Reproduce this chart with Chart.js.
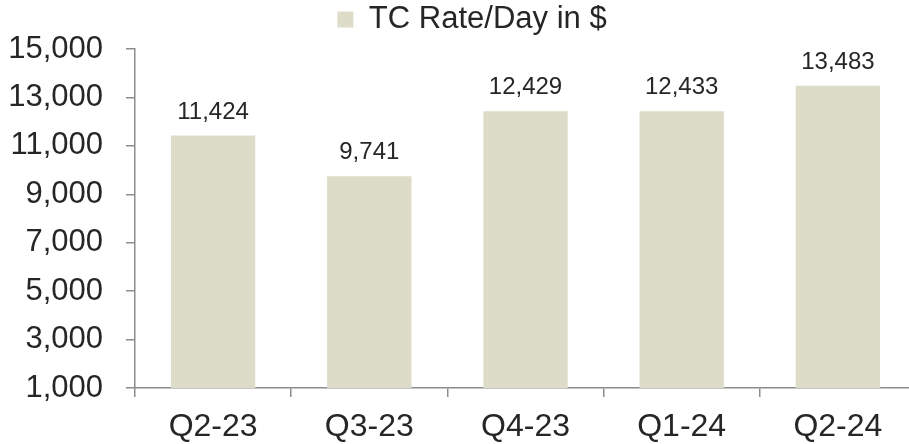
<!DOCTYPE html>
<html>
<head>
<meta charset="utf-8">
<script src="https://cdn.jsdelivr.net/npm/chart.js@4/dist/chart.umd.min.js"></script>
<style>
  html, body { margin: 0; padding: 0; background: #fff; overflow: hidden; }
  #wrap { width: 944px; height: 444px; }
</style>
</head>
<body>
<div id="wrap"><canvas id="rateChart" width="944" height="444"></canvas></div>
<script>
// TC Rate/Day — quarterly bars with value labels on top

const quarters = ['Q2-23', 'Q3-23', 'Q4-23', 'Q1-24', 'Q2-24'];
const tcRates = [11424, 9741, 12429, 12433, 13483];
const yTicks = [1000, 3000, 5000, 7000, 9000, 11000, 13000, 15000];

const BAR_COLOR = '#dcdcc8';
const AXIS_COLOR = '#8c8c8c';
const TEXT_COLOR = '#262626';
const FONT = 'Liberation Sans, Arial, sans-serif';

// draws the number above each bar
const valueLabels = {
  id: 'valueLabels',
  afterDatasetsDraw(chart) {
    const ctx = chart.ctx;
    ctx.save();
    ctx.font = `24px ${FONT}`;
    ctx.fillStyle = TEXT_COLOR;
    ctx.textAlign = 'center';
    ctx.textBaseline = 'alphabetic';
    chart.getDatasetMeta(0).data.forEach((bar, i) => {
      ctx.fillText(tcRates[i].toLocaleString('en-US'), bar.x, bar.y - 17);
    });
    ctx.restore();
  }
};

// nudge the legend a bit right and up (original isn't centred on the canvas)
const legendNudge = {
  id: 'legendNudge',
  afterLayout(chart) {
    const lg = chart.legend;
    if (!lg) return;
    lg.left += 10; lg.right += 10;
    lg.top -= 4; lg.bottom -= 4;
  }
};

new Chart(document.getElementById('rateChart').getContext('2d'), {
  type: 'bar',
  data: {
    labels: quarters,
    datasets: [{
      label: 'TC Rate/Day in $',
      data: tcRates,
      backgroundColor: BAR_COLOR,
      borderWidth: 0,
      barPercentage: 0.54,
      categoryPercentage: 1.0
    }]
  },
  options: {
    responsive: false,
    animation: false,
    layout: { padding: { left: 8, right: 28, top: 0, bottom: 0 } },
    plugins: {
      tooltip: { enabled: false },
      legend: {
        display: true,
        position: 'top',
        labels: {
          font: { family: FONT, size: 31 },
          color: TEXT_COLOR,
          boxWidth: 16,
          boxHeight: 16,
          padding: 8
        }
      }
    },
    scales: {
      x: {
        afterFit: axis => { axis.height = 56; },
        grid: {
          display: true,
          drawOnChartArea: false,
          drawTicks: true,
          tickLength: 9,
          offset: true,
          color: AXIS_COLOR,
          lineWidth: 1.5
        },
        border: { display: true, color: AXIS_COLOR, width: 1.5 },
        ticks: {
          font: { family: FONT, size: 32 },
          color: TEXT_COLOR,
          padding: 11,
          maxRotation: 0
        }
      },
      y: {
        min: 1000,
        max: 15000,
        afterBuildTicks: axis => { axis.ticks = yTicks.map(v => ({ value: v })); },
        afterFit: axis => { axis.width = 127; },
        grid: {
          display: true,
          drawOnChartArea: false,
          drawTicks: true,
          tickLength: 9,
          color: AXIS_COLOR,
          lineWidth: 1.5
        },
        border: { display: true, color: AXIS_COLOR, width: 1.5 },
        ticks: {
          font: { family: FONT, size: 31 },
          color: TEXT_COLOR,
          padding: 23,
          callback: v => Number(v).toLocaleString('en-US')
        }
      }
    }
  },
  plugins: [valueLabels, legendNudge]
});
</script>
</body>
</html>
